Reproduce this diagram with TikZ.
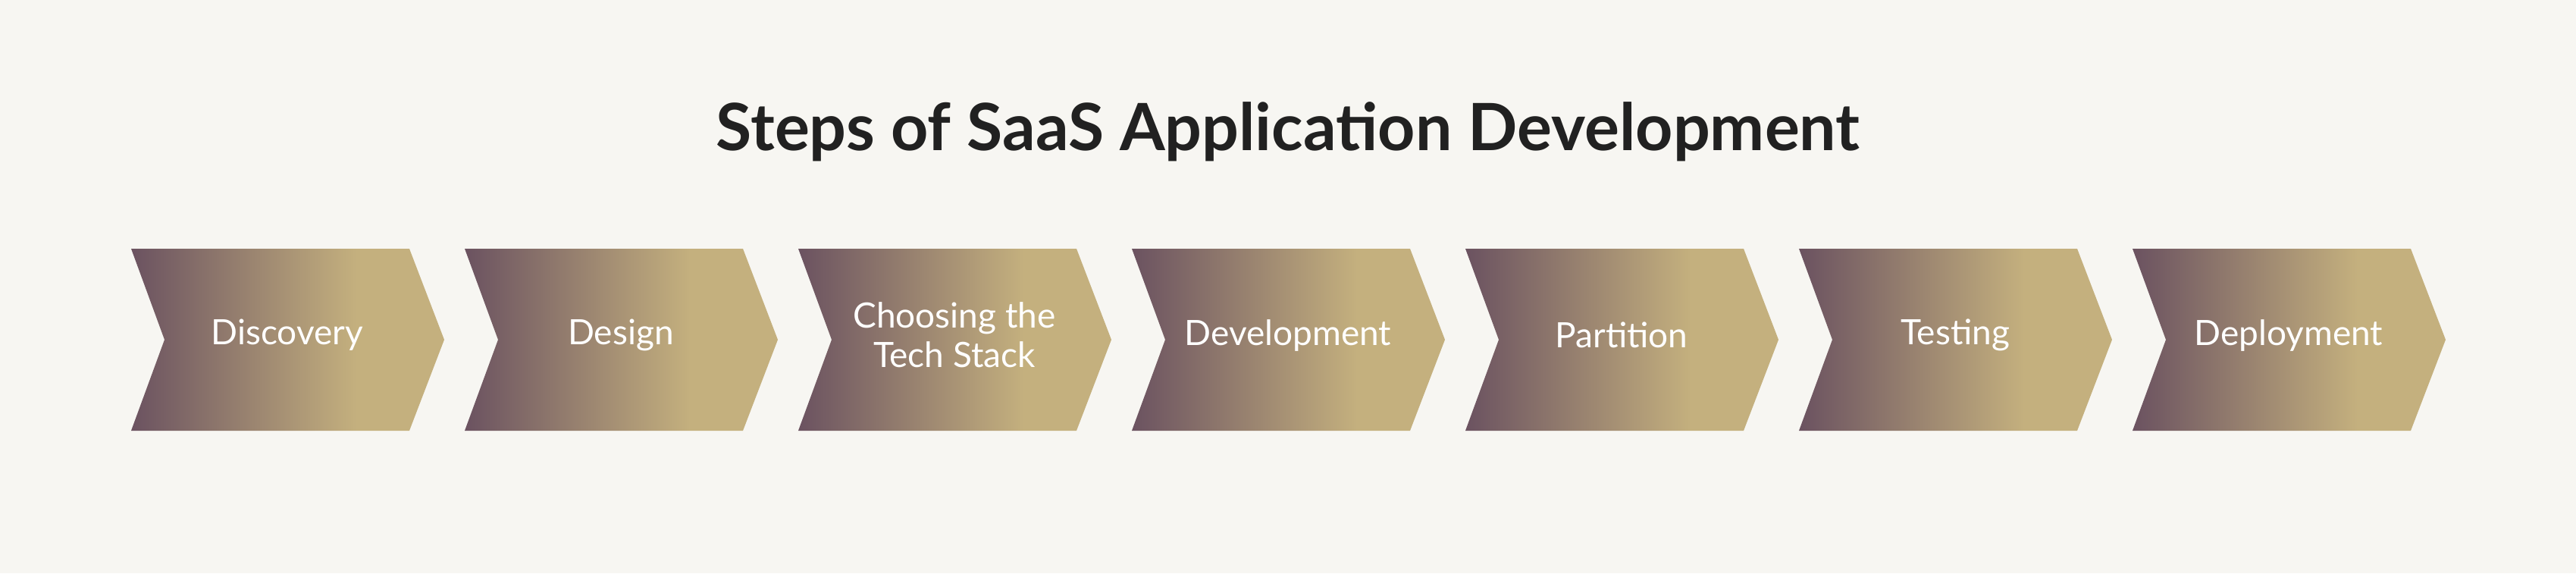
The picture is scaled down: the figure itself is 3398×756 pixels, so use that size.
\documentclass[tikz,border=0pt]{standalone}
\usepackage{fontspec}
\setmainfont{Lato}
\usetikzlibrary{calc}
\definecolor{bgc}{HTML}{F7F6F2}
\definecolor{pur}{HTML}{523858}
\definecolor{gold}{HTML}{C4B07E}
\pgfdeclarehorizontalshading{chevshade}{100bp}{color(0bp)=(pur); color(15bp)=(pur); color(61bp)=(gold); color(100bp)=(gold)}
\tikzstyle{steplabel}=[text=white,font=\fontsize{46}{52}\selectfont,align=center]
\tikzstyle{chevron}=[shading=chevshade]

\begin{document}
\begin{tikzpicture}[x=1pt,y=-1pt]
    \fill[bgc] (0,0) rectangle (3398,756);
    \useasboundingbox (0,0) rectangle (3398,756);

    \node (title)[text=black!87,font=\bfseries\fontsize{86}{96}\selectfont] at (1699,174) {Steps of SaaS Application Development};

    \foreach \i/\txt in {0/Discovery,1/Design,2/{Choosing the\\Tech Stack},3/Development,4/Partition,5/Testing,6/Deployment}{
        \coordinate (c\i) at (173+440*\i,328);
        \shade[chevron] (c\i) -- ++(367,0) -- ++(46,120) -- ++(-46,120) -- ++(-367,0) -- ++(44,-120) -- cycle;
        \node (s\i)[steplabel] at ($(c\i)+(206,114)$) {\txt};
    }
\end{tikzpicture}
\end{document}
